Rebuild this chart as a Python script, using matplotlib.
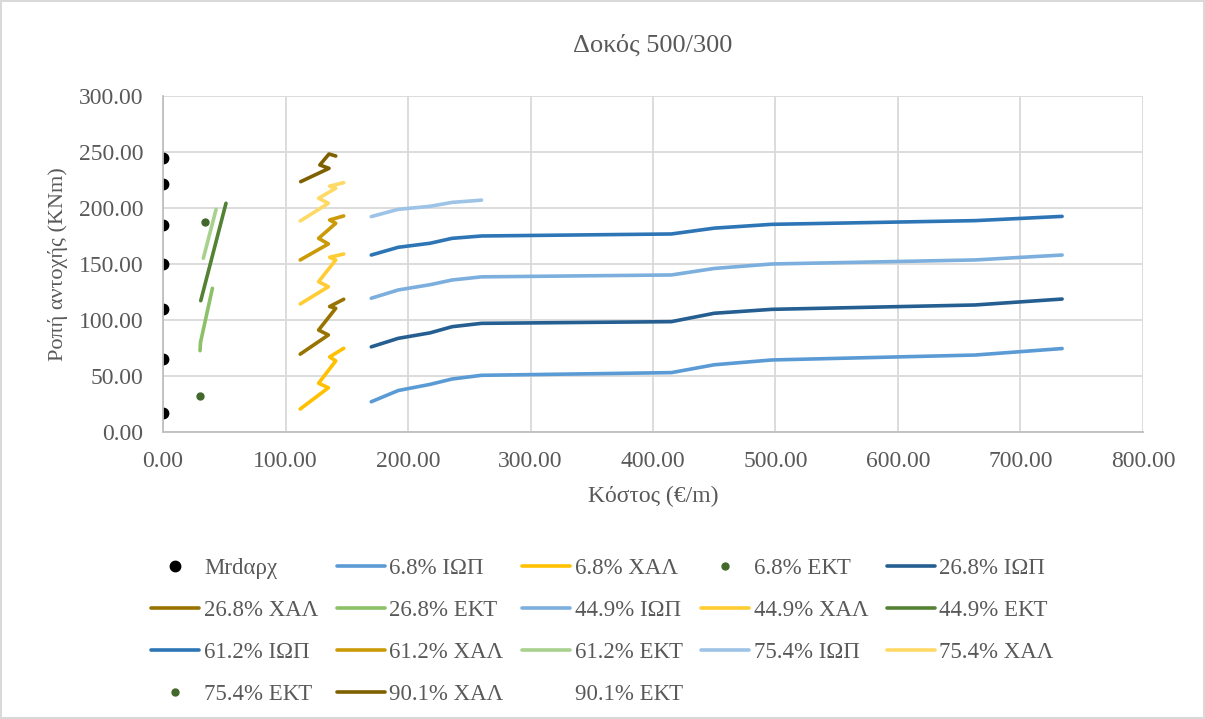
import matplotlib.pyplot as plt
from matplotlib.lines import Line2D

# Αρχική ροπή αντοχής (χωρίς ενίσχυση)
mrd_cost = [0, 0, 0, 0, 0, 0, 0]
mrd_values = [16.5, 65.5, 110, 150, 185, 221, 245]

# Ενίσχυση με ΙΩΠ
cost_iop = [170, 192, 218, 236, 260, 415, 450, 497, 663, 734]
m_iop_68 = [27, 37, 42.5, 47.3, 50.6, 53, 60, 64.3, 68.7, 74.5]
m_iop_268 = [76, 83.6, 88.5, 94, 97, 98.5, 106, 109.5, 113.4, 118.7]
m_iop_449 = [119.4, 126.8, 131.5, 135.7, 138.5, 140.2, 146, 150, 153.6, 158]
m_iop_612 = [158, 164.9, 168.5, 172.9, 175, 176.8, 182, 185.4, 188.7, 192.5]
cost_iop_754 = [170, 192, 218, 236, 260]
m_iop_754 = [192.3, 198.8, 201.5, 205, 207]

# Ενίσχυση με ΧΑΛ
cost_xal = [112, 135, 127, 141, 136, 147.5]
m_xal_68 = [20.5, 39.5, 43.5, 63.5, 67, 74.7]
m_xal_268 = [69.5, 86.6, 91, 110.4, 112, 118.5]
m_xal_449 = [114.3, 129.7, 134.2, 153.6, 156, 158.9]
m_xal_612 = [153.6, 167.9, 172.9, 186.3, 189.3, 192.9]
m_xal_754 = [188.4, 204.2, 208.7, 217.6, 219.5, 222.6]
cost_xal_901 = [112.4, 135.5, 128, 135.5, 141]
m_xal_901 = [223.5, 235.4, 238.4, 248.2, 246.4]

# Ενίσχυση με ΕΚΤ
cost_ekt_68 = [30.5]
m_ekt_68 = [32.5]
cost_ekt_268 = [30.2, 30.6, 40.3]
m_ekt_268 = [72.6, 80, 128.3]
cost_ekt_449 = [30.8, 51.4]
m_ekt_449 = [117.2, 204.2]
cost_ekt_612 = [32.9, 43.3]
m_ekt_612 = [155.1, 198.8]
cost_ekt_754 = [34.3]
m_ekt_754 = [187.8]

plt.rcParams['font.family'] = ['Liberation Serif', 'DejaVu Serif']

fig = plt.figure(figsize=(12.05, 7.19), dpi=100)
fig.patch.set_edgecolor('#D9D9D9')
fig.patch.set_linewidth(1.5)
ax = fig.add_axes([0.1353, 0.3992, 0.8132, 0.4673])

lw = 2.6
handles = []
handles += ax.plot(mrd_cost, mrd_values, 'o', color='black', ms=7.5, label='Mrdαρχ')
handles += ax.plot(cost_iop, m_iop_68, color='#5B9BD5', lw=lw, label='6.8% ΙΩΠ')
handles += ax.plot(cost_xal, m_xal_68, color='#FFC000', lw=lw, label='6.8% ΧΑΛ')
handles += ax.plot(cost_ekt_68, m_ekt_68, 'o', color='#43682B', ms=5, label='6.8% ΕΚΤ')
handles += ax.plot(cost_iop, m_iop_268, color='#255E91', lw=lw, label='26.8% ΙΩΠ')
handles += ax.plot(cost_xal, m_xal_268, color='#997300', lw=lw, label='26.8% ΧΑΛ')
handles += ax.plot(cost_ekt_268, m_ekt_268, color='#8CC168', lw=lw, label='26.8% ΕΚΤ')
handles += ax.plot(cost_iop, m_iop_449, color='#7CAFDD', lw=lw, label='44.9% ΙΩΠ')
handles += ax.plot(cost_xal, m_xal_449, color='#FFCD33', lw=lw, label='44.9% ΧΑΛ')
handles += ax.plot(cost_ekt_449, m_ekt_449, color='#548235', lw=lw, label='44.9% ΕΚΤ')
handles += ax.plot(cost_iop, m_iop_612, color='#2E75B6', lw=lw, label='61.2% ΙΩΠ')
handles += ax.plot(cost_xal, m_xal_612, color='#CC9A06', lw=lw, label='61.2% ΧΑΛ')
handles += ax.plot(cost_ekt_612, m_ekt_612, color='#A9D18E', lw=lw, label='61.2% ΕΚΤ')
handles += ax.plot(cost_iop_754, m_iop_754, color='#9DC3E6', lw=lw, label='75.4% ΙΩΠ')
handles += ax.plot(cost_xal, m_xal_754, color='#FFD966', lw=lw, label='75.4% ΧΑΛ')
handles += ax.plot(cost_ekt_754, m_ekt_754, 'o', color='#43682B', ms=5, label='75.4% ΕΚΤ')
handles += ax.plot(cost_xal_901, m_xal_901, color='#7F6000', lw=lw, label='90.1% ΧΑΛ')
handles.append(Line2D([], [], linestyle='none', label='90.1% ΕΚΤ'))

for line in ax.get_lines():
    line.set_solid_capstyle('round')
    line.set_solid_joinstyle('round')

ax.set_xlim(0, 800)
ax.set_ylim(0, 300)
ax.set_xticks(range(0, 801, 100))
ax.set_yticks(range(0, 301, 50))
ax.xaxis.set_major_formatter(lambda v, p: f'{v:.2f}')
ax.yaxis.set_major_formatter(lambda v, p: f'{v:.2f}')
ax.grid(True, color='#D9D9D9', lw=1.3)
ax.set_axisbelow(True)
for s in ['top', 'right']:
    ax.spines[s].set_visible(False)
for s in ['left', 'bottom']:
    ax.spines[s].set_color('#BFBFBF')
    ax.spines[s].set_linewidth(1.3)
ax.tick_params(length=0, labelsize=17, labelcolor='#595959')
ax.tick_params(axis='x', pad=14)
ax.tick_params(axis='y', pad=14)

ax.set_title('Δοκός 500/300', fontsize=19, color='#595959', pad=32)
ax.set_xlabel('Κόστος (€/m)', fontsize=17, color='#595959', labelpad=10)
ax.set_ylabel('Ροπή αντοχής (KNm)', fontsize=16, color='#595959', labelpad=8)

# σειρά γραμμή-γραμμή στο υπόμνημα (5 στήλες)
order = [0, 5, 10, 15, 1, 6, 11, 16, 2, 7, 12, 17, 3, 8, 13, 4, 9, 14]
leg = fig.legend([handles[i] for i in order], [handles[i].get_label() for i in order],
                 loc='upper center', bbox_to_anchor=(0.5, 0.24), ncol=5,
                 frameon=False, fontsize=16.5, handlelength=2.1, handletextpad=0.2,
                 columnspacing=0.8, labelspacing=0.92, borderpad=0)
for t in leg.get_texts():
    t.set_color('#595959')

fig.savefig('out.png', dpi=100)
